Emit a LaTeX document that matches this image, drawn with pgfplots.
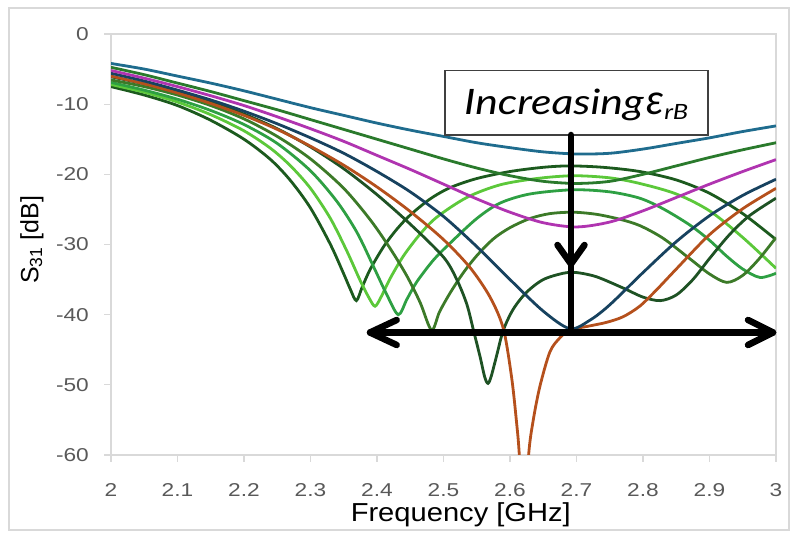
\documentclass[border=0pt]{standalone}
\usepackage{pgfplots}
\pgfplotsset{compat=1.18}
\usepackage{fontspec}
\setmainfont{Liberation Sans}
\newfontfamily\tickfont[FakeStretch=1.22]{Liberation Sans}
\newfontfamily\labfont[FakeStretch=1.12]{Liberation Sans}
\newfontfamily\annfont[FakeStretch=1.22]{Lato}
\newfontfamily\annfontN{Lato}
\definecolor{axgray}{HTML}{D9D9D9}
\definecolor{tickgray}{HTML}{595959}
\definecolor{cBlue}{HTML}{1F6C8E}
\definecolor{cGreenA}{HTML}{2A7A2C}
\definecolor{cMag}{HTML}{B034B0}
\definecolor{cNavy}{HTML}{17425F}
\definecolor{cOrange}{HTML}{B5501C}
\definecolor{cDkA}{HTML}{1E5224}
\definecolor{cMid}{HTML}{3C7A28}
\definecolor{cGreenB}{HTML}{2EA043}
\definecolor{cLight}{HTML}{5CC83A}
\definecolor{cDkB}{HTML}{1C5A1E}
\begin{document}
\begin{tikzpicture}[x=1bp,y=1bp]
\path[use as bounding box] (0,0) rectangle (795,536);
\draw[color=axgray, line width=1.2bp] (9,6) rectangle (789,528);
\begin{axis}[
  at={(111bp,81bp)}, anchor=south west,
  scale only axis, width=665bp, height=421bp,
  xmin=2, xmax=3, ymin=-60, ymax=0,
  xtick={2,2.1,2.2,2.3,2.4,2.5,2.6,2.7,2.8,2.9,3},
  xticklabels={2,2.1,2.2,2.3,2.4,2.5,2.6,2.7,2.8,2.9,3},
  ytick={-60,-50,-40,-30,-20,-10,0},
  yticklabels={-60,-50,-40,-30,-20,-10,0},
  tick pos=left, tick align=outside, major tick length=7bp,
  axis line style={draw=axgray, line width=1.5bp},
  every tick/.style={draw=axgray, line width=1.2bp},
  ticklabel style={font=\tickfont\fontsize{18.6bp}{20bp}\selectfont, text=tickgray},
  xticklabel style={anchor=north, inner sep=0pt, yshift=-21bp},
  yticklabel style={anchor=east, inner sep=0pt, xshift=-15bp},
  xlabel={Frequency [GHz]},
  ylabel={S\textsubscript{31} [dB]},
  every axis x label/.style={at={(axis description cs:0.526,-0.159)}, anchor=base, font=\labfont\fontsize{26bp}{28bp}\selectfont},
  every axis y label/.style={at={(axis description cs:-0.1188,0.511)}, anchor=center, rotate=90, font=\fontsize{25bp}{27bp}\selectfont},
  every axis plot/.append style={line width=2.8bp, smooth, tension=0.5, no markers},
  clip=true,
]
% curve 10 (dark green)
\addplot[cDkB] coordinates {(2.0,-7.5)(2.05,-8.7)(2.1,-10.2)(2.15,-12.3)(2.2,-15.0)(2.24,-17.9)(2.27,-20.9)(2.3,-24.8)(2.33,-30.0)(2.35,-34.2)(2.36,-36.4)(2.369,-38.0)(2.378,-36.0)(2.39,-33.5)(2.41,-30.3)(2.43,-27.8)(2.45,-25.8)(2.48,-23.5)(2.51,-21.9)(2.55,-20.6)(2.6,-19.6)(2.65,-19.0)(2.69,-18.8)(2.74,-19.0)(2.795,-19.6)(2.85,-20.8)(2.9,-22.7)(2.95,-25.6)(3.0,-29.3)};
% curve 9 (light green)
\addplot[cLight] coordinates {(2.0,-7.2)(2.05,-8.3)(2.1,-9.7)(2.15,-11.5)(2.2,-13.8)(2.24,-16.3)(2.27,-18.8)(2.3,-22.0)(2.33,-26.3)(2.355,-31.0)(2.375,-35.2)(2.388,-37.6)(2.397,-38.8)(2.406,-37.5)(2.42,-34.8)(2.44,-31.6)(2.465,-28.5)(2.49,-26.1)(2.535,-23.3)(2.585,-21.5)(2.64,-20.6)(2.695,-20.2)(2.75,-20.5)(2.795,-21.3)(2.85,-22.8)(2.9,-25.2)(2.95,-29.0)(3.0,-33.4)};
% curve 8 (green)
\addplot[cGreenB] coordinates {(2.0,-6.9)(2.05,-8.0)(2.1,-9.3)(2.15,-10.9)(2.2,-12.9)(2.25,-15.6)(2.3,-19.5)(2.34,-23.9)(2.37,-28.3)(2.395,-33.2)(2.415,-37.2)(2.432,-40.0)(2.445,-37.8)(2.46,-35.3)(2.485,-32.2)(2.51,-29.8)(2.55,-26.3)(2.585,-24.1)(2.63,-22.8)(2.695,-22.2)(2.75,-22.5)(2.795,-23.4)(2.83,-24.9)(2.87,-27.2)(2.9,-29.4)(2.925,-31.6)(2.95,-33.5)(2.976,-34.7)(3.0,-34.1)};
% curve 7 (mid green)
\addplot[cMid] coordinates {(2.0,-6.55)(2.05,-7.5)(2.1,-8.7)(2.15,-10.2)(2.2,-12.1)(2.25,-14.6)(2.3,-17.8)(2.35,-22.0)(2.39,-26.5)(2.42,-30.6)(2.445,-34.5)(2.465,-38.3)(2.482,-42.2)(2.494,-39.6)(2.51,-36.9)(2.53,-34.0)(2.55,-31.6)(2.575,-29.2)(2.6,-27.6)(2.63,-26.3)(2.66,-25.6)(2.695,-25.4)(2.73,-25.7)(2.765,-26.4)(2.795,-27.3)(2.83,-29.1)(2.87,-32.0)(2.9,-34.2)(2.926,-35.4)(2.95,-34.4)(2.975,-32.0)(3.0,-29.0)};
% curve 6 (dark green)
\addplot[cDkA] coordinates {(2.0,-6.1)(2.05,-7.1)(2.1,-8.3)(2.15,-9.7)(2.2,-11.4)(2.25,-13.5)(2.3,-16.1)(2.35,-19.2)(2.4,-22.9)(2.45,-27.1)(2.5,-31.8)(2.52,-35.0)(2.535,-38.5)(2.545,-42.2)(2.555,-46.0)(2.562,-48.9)(2.567,-49.8)(2.572,-48.7)(2.58,-45.8)(2.59,-42.2)(2.605,-39.2)(2.625,-36.8)(2.65,-35.0)(2.68,-34.1)(2.7,-34.0)(2.73,-34.6)(2.77,-36.2)(2.8,-37.5)(2.826,-38.0)(2.85,-37.2)(2.875,-35.0)(2.9,-32.0)(2.93,-28.6)(2.96,-25.9)(3.0,-23.4)};
% orange
\addplot[cOrange] coordinates {(2.0,-6.0)(2.05,-7.1)(2.1,-8.4)(2.15,-9.9)(2.2,-11.6)(2.25,-13.6)(2.3,-16.0)(2.35,-18.7)(2.4,-21.8)(2.45,-25.3)(2.5,-29.3)(2.54,-33.3)(2.57,-37.5)(2.59,-42.0)(2.6025,-49)(2.61,-55.5)(2.614,-60)(2.621,-72)(2.628,-60)(2.635,-55)(2.645,-50.2)(2.66,-45.3)(2.675,-43.3)(2.69,-42.2)(2.72,-41.6)(2.745,-41.1)(2.77,-40.3)(2.795,-38.8)(2.82,-36.5)(2.85,-33.5)(2.9,-28.6)(2.95,-24.9)(3.0,-22.0)};
% navy
\addplot[cNavy] coordinates {(2.0,-5.6)(2.05,-6.7)(2.1,-8.0)(2.15,-9.4)(2.2,-11.0)(2.25,-12.8)(2.3,-14.8)(2.35,-17.0)(2.4,-19.6)(2.45,-22.5)(2.5,-26.0)(2.55,-30.3)(2.6,-35.0)(2.65,-39.5)(2.69,-42.0)(2.72,-40.8)(2.75,-38.6)(2.8,-34.0)(2.85,-29.6)(2.9,-25.9)(2.95,-23.0)(3.0,-20.7)};
% magenta
\addplot[cMag] coordinates {(2.0,-5.2)(2.05,-6.3)(2.1,-7.5)(2.15,-8.8)(2.2,-10.2)(2.25,-11.8)(2.3,-13.5)(2.35,-15.3)(2.4,-17.3)(2.45,-19.3)(2.5,-21.4)(2.55,-23.5)(2.6,-25.4)(2.65,-26.9)(2.7,-27.5)(2.75,-26.8)(2.8,-25.2)(2.85,-23.3)(2.9,-21.4)(2.95,-19.6)(3.0,-17.9)};
% green (top)
\addplot[cGreenA] coordinates {(2.0,-4.75)(2.05,-5.8)(2.1,-7.0)(2.15,-8.2)(2.2,-9.5)(2.25,-10.8)(2.3,-12.2)(2.35,-13.6)(2.4,-15.0)(2.45,-16.4)(2.5,-17.8)(2.55,-19.1)(2.6,-20.2)(2.65,-21.0)(2.7,-21.3)(2.75,-21.0)(2.8,-20.0)(2.85,-18.8)(2.9,-17.6)(2.95,-16.5)(3.0,-15.5)};
% blue
\addplot[cBlue] coordinates {(2.0,-4.2)(2.05,-5.0)(2.1,-6.0)(2.15,-7.0)(2.2,-8.1)(2.25,-9.3)(2.3,-10.5)(2.35,-11.6)(2.4,-12.7)(2.45,-13.7)(2.5,-14.6)(2.55,-15.5)(2.6,-16.2)(2.65,-16.8)(2.7,-17.1)(2.75,-17.0)(2.8,-16.4)(2.85,-15.6)(2.9,-14.8)(2.95,-13.9)(3.0,-13.1)};
\end{axis}
% annotation box
\draw[draw=black!75, line width=1.3bp, fill=white] (445,401) rectangle (708,465.3);
\node[anchor=base west, inner sep=0pt] at (464,421) {\annfont\itshape\fontsize{35bp}{40bp}\selectfont Increasing\hspace{3bp}{\annfontN\itshape\fontsize{42bp}{42bp}\selectfont ε}\raisebox{-5bp}{\fontsize{21bp}{21bp}\selectfont rB}};
% arrows
\begin{scope}[line width=6.5bp, line cap=round, line join=round, draw=black]
\draw (571,401) -- (571,203.5);
\draw (557.5,291) -- (571,272) -- (584.5,291);
\draw (370,203.5) -- (773,203.5);
\draw (396.7,216) -- (370,203.5) -- (396.7,191);
\draw (748,216) -- (773,203.5) -- (748,191);
\end{scope}
\end{tikzpicture}
\end{document}
